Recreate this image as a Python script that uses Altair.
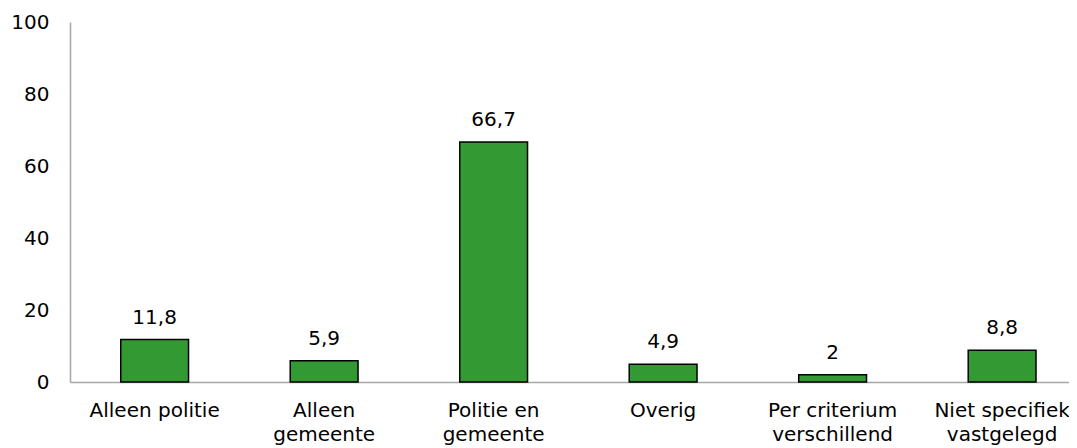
import altair as alt
import pandas as pd

categories = [
    ["Alleen politie"],
    ["Alleen", "gemeente"],
    ["Politie en", "gemeente"],
    ["Overig"],
    ["Per criterium", "verschillend"],
    ["Niet specifiek", "vastgelegd"],
]
keys = ["Alleen politie", "Alleen gemeente", "Politie en gemeente", "Overig",
        "Per criterium verschillend", "Niet specifiek vastgelegd"]
values = [11.8, 5.9, 66.7, 4.9, 2, 8.8]
labels = [str(v).replace(".", ",") for v in values]
y_ticks = [0, 20, 40, 60, 80, 100]

df = pd.DataFrame({"cat": keys, "value": values, "label": labels})

label_expr = "{" + ", ".join(
    f"'{k}': [{', '.join(repr(p) for p in parts)}]" for k, parts in zip(keys, categories)
) + "}[datum.value]"

FONT = "DejaVu Sans"

x = alt.X(
    "cat:N",
    sort=keys,
    title=None,
    scale=alt.Scale(paddingInner=0.6, paddingOuter=0.247, align=0.606, round=False),
    axis=alt.Axis(
        labelAngle=0,
        labelExpr=label_expr,
        ticks=False,
        domainColor="#a6a6a6",
        domainWidth=1.5,
        labelFont=FONT,
        labelFontSize=20,
        labelColor="#000000",
        labelPadding=18,
        labelLineHeight=24,
        labelBaseline="top",
    ),
)
y = alt.Y(
    "value:Q",
    title=None,
    scale=alt.Scale(domain=[0, 100], nice=False),
    axis=alt.Axis(
        values=y_ticks,
        grid=False,
        ticks=False,
        domainColor="#a6a6a6",
        domainWidth=1.5,
        labelFont=FONT,
        labelFontSize=20,
        labelColor="#000000",
        labelPadding=21,
    ),
)

bars = alt.Chart(df).mark_bar(color="#339933", stroke="#000000", strokeWidth=1.5).encode(x=x, y=y)
text = alt.Chart(df).mark_text(
    font=FONT, fontSize=20, color="#000000", baseline="alphabetic", dy=-16
).encode(x=x, y=y, text="label:N")

chart = (bars + text).properties(
    width=999,
    height=360,
    autosize=alt.AutoSizeParams(type="none"),
    padding={"left": 62, "top": 14, "right": 0, "bottom": 64},
).configure_view(stroke=None)

chart.save("out.html", embed_options={"renderer": "svg", "actions": False})
